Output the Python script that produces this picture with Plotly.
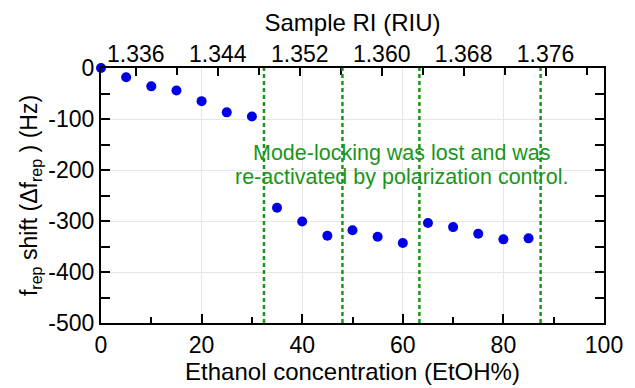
import plotly.graph_objects as go

# Data
etoh = [0, 5, 10, 15, 20, 25, 30, 35, 40, 45, 50, 55, 60, 65, 70, 75, 80, 85]
shift = [0, -18, -36, -44, -65, -87, -95, -274, -301, -329, -318, -331, -343, -304, -312, -325, -336, -334]
relock_lines = [32.4, 48.0, 63.3, 87.4]
x_ticks = [0, 20, 40, 60, 80, 100]
y_ticks = [0, -100, -200, -300, -400, -500]
y_ticklabels = ["0", "-100", "-200", "-300", "-400", "-500"]
ri_range = [1.3326, 1.3817]
ri_ticks = [1.336, 1.344, 1.352, 1.360, 1.368, 1.376]
ri_ticklabels = ["1.336", "1.344", "1.352", "1.360", "1.368", "1.376"]
note_lines = ["Mode-locking was lost and was", "re-activated by polarization control."]
note_y = [-167, -213]

FONT = "Arial, Liberation Sans, sans-serif"
GREEN = "#1a961a"
BLUE = "#0000e6"

fig = go.Figure()
fig.add_trace(go.Scatter(
    x=etoh, y=shift, mode="markers",
    marker=dict(color=BLUE, size=10, line=dict(width=0)),
    cliponaxis=False, showlegend=False,
))
# dummy trace for top axis
fig.add_trace(go.Scatter(x=ri_range, y=[None, None], xaxis="x2", mode="markers",
                         showlegend=False, hoverinfo="skip"))

for xv in relock_lines:
    fig.add_shape(type="line", xref="x", yref="y", x0=xv, x1=xv, y0=-500, y1=0,
                  line=dict(color=GREEN, width=2.5, dash="4px,3px"), layer="above")

for txt, yv in zip(note_lines, note_y):
    fig.add_annotation(x=59.8, y=yv, xref="x", yref="y", text=txt, showarrow=False,
                       font=dict(family=FONT, size=21.5, color=GREEN), align="center")

fig.update_layout(
    width=635, height=388,
    margin=dict(l=101, r=24, t=68, b=65),
    paper_bgcolor="white", plot_bgcolor="white",
    font=dict(family=FONT, size=23, color="black"),
    xaxis=dict(
        range=[0, 100], tickvals=x_ticks, ticks="inside",
        ticklen=9, tickwidth=1.5, tickcolor="black",
        minor=dict(dtick=10, ticks="inside", ticklen=6, tickwidth=1.5, tickcolor="black", showgrid=False),
        showline=True, linecolor="black", linewidth=2, mirror=True,
        showgrid=True, gridcolor="#e6e6e6", gridwidth=1, zeroline=False,
        tickfont=dict(size=23),
        title=dict(text="Ethanol concentration (EtOH%)", font=dict(size=24), standoff=0),
    ),
    xaxis2=dict(
        overlaying="x", side="top", range=ri_range,
        tickvals=ri_ticks, ticktext=ri_ticklabels, ticks="inside",
        ticklen=8, tickwidth=1.5, tickcolor="black",
        minor=dict(dtick=0.004, tick0=1.336, ticks="inside", ticklen=7, tickwidth=1.5, tickcolor="black", showgrid=False),
        showline=False, showgrid=False, zeroline=False,
        tickfont=dict(size=23),
        title=dict(text="Sample RI (RIU)", font=dict(size=24), standoff=3),
    ),
    yaxis=dict(
        range=[-500, 0], tickvals=y_ticks, ticktext=y_ticklabels, ticks="inside",
        ticklen=9, tickwidth=1.5, tickcolor="black",
        minor=dict(dtick=50, ticks="inside", ticklen=7, tickwidth=1.5, tickcolor="black", showgrid=False),
        showline=True, linecolor="black", linewidth=2, mirror="allticks",
        showgrid=True, gridcolor="#e6e6e6", gridwidth=1, zeroline=False,
        tickfont=dict(size=23),
        title=dict(text="f<sub>rep</sub> shift (Δf<sub>rep</sub> ) (Hz)", font=dict(size=23), standoff=4),
    ),
)

fig.write_html("out.html")
